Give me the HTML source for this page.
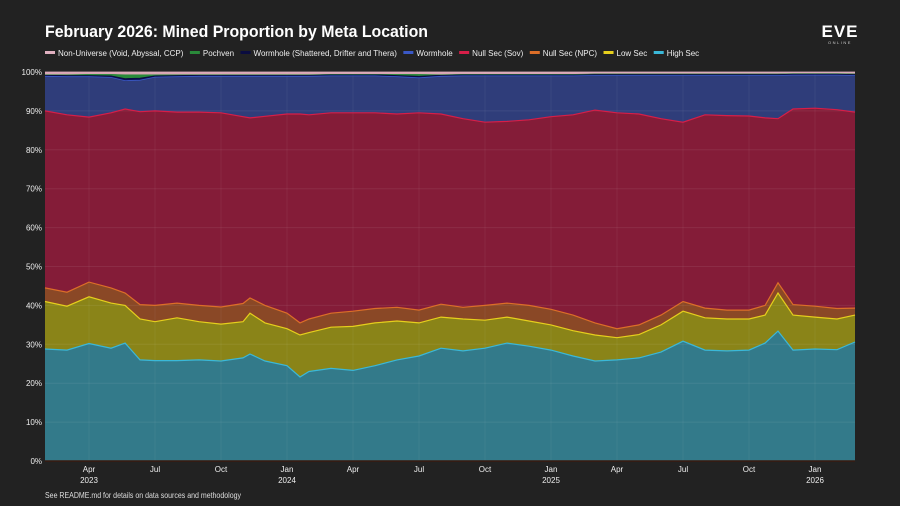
<!DOCTYPE html>
<html><head><meta charset="utf-8">
<style>
html,body{margin:0;padding:0;background:#222;}
svg{display:block;font-family:"Liberation Sans Narrow","Liberation Sans",sans-serif;}
</style></head>
<body>
<svg id="c" width="900" height="506" viewBox="0 0 900 506">
<rect x="0" y="0" width="900" height="506" fill="#222"/>
<text x="45" y="37" fill="#fff" font-size="17" font-weight="bold" textLength="383" lengthAdjust="spacingAndGlyphs">February 2026: Mined Proportion by Meta Location</text>
<g>
<text x="840" y="37" fill="#fff" font-size="17" font-weight="bold" text-anchor="middle" letter-spacing="1">EVE</text>
<text x="840" y="44" fill="#ccc" font-size="4" text-anchor="middle" letter-spacing="1.5">ONLINE</text>
</g>
<g id="legend"></g>
<g id="plot"></g>
<text x="45" y="498" fill="#ddd" font-size="8" textLength="196" lengthAdjust="spacingAndGlyphs">See README.md for details on data sources and methodology</text>
</svg>
<script>
// months since Feb 2023
const months = [0,1,2,3,3.64,4.32,5,6,7,8,9,9.32,10,11,11.59,12,13,14,15,16,17,18,19,20,21,22,23,24,25,26,27,28,29,30,31,32,32.73,33.32,34,35,36,36.82];
// cumulative tops (%)
const highSecTop = [28.8,28.5,30.2,29,30.3,26,25.8,25.8,26,25.7,26.5,27.5,25.7,24.5,21.6,23,23.8,23.3,24.5,26,27,29,28.3,29,30.3,29.5,28.5,27,25.7,26,26.5,28,30.8,28.5,28.3,28.5,30.3,33.4,28.5,28.8,28.6,30.6];
const lowSecTop = [41,39.8,42.2,40.6,40,36.5,35.8,36.8,35.8,35.2,35.8,38,35.5,34,32.4,33,34.4,34.6,35.5,36,35.5,37,36.5,36.2,37,36,35,33.5,32.4,31.7,32.5,35,38.5,36.8,36.5,36.5,37.5,43.2,37.5,37,36.5,37.5];
const nullNpcTop = [44.5,43.4,46,44.5,43.2,40.2,40,40.6,40,39.6,40.5,41.9,40,38,35.5,36.5,38,38.5,39.2,39.5,38.8,40.3,39.5,40,40.6,40,39,37.5,35.5,34,35,37.5,41,39.3,38.8,38.8,40,45.8,40.2,39.8,39.2,39.3];
const nullSovTop = [90,89,88.4,89.5,90.5,89.8,90,89.7,89.7,89.5,88.5,88.2,88.6,89.2,89.2,89,89.5,89.5,89.5,89.2,89.5,89.2,88,87.1,87.3,87.7,88.5,89,90.2,89.5,89.2,88,87.1,89,88.8,88.7,88.2,88,90.5,90.7,90.3,89.7];
const wormholeTop = [98.9,98.8,98.8,98.6,97.8,97.9,98.7,98.8,98.9,98.9,98.9,98.9,98.9,98.9,98.9,98.9,99,99,99,98.8,98.5,98.9,99,99,99,99,99,99,99.1,99.1,99.1,99.1,99.1,99.1,99.1,99.1,99.1,99.1,99.2,99.2,99.2,99.1];
const shatteredTop = [99.2,99.1,99.1,99.0,98.3,98.4,99.0,99.1,99.2,99.2,99.2,99.2,99.2,99.2,99.2,99.2,99.3,99.3,99.3,99.1,98.9,99.2,99.3,99.3,99.3,99.3,99.3,99.3,99.4,99.4,99.4,99.4,99.4,99.4,99.4,99.4,99.4,99.4,99.5,99.5,99.5,99.4];
const pochvenTop = [99.3,99.3,99.4,99.4,99.3,99.3,99.3,99.3,99.3,99.3,99.3,99.3,99.3,99.3,99.3,99.3,99.4,99.4,99.4,99.4,99.4,99.3,99.4,99.4,99.4,99.4,99.4,99.4,99.5,99.5,99.5,99.5,99.5,99.5,99.5,99.5,99.5,99.5,99.6,99.6,99.6,99.5];
const nonUniverseTop = months.map(()=>100);
const yTicks = [0,10,20,30,40,50,60,70,80,90,100];
const xTickMonths = [2,5,8,11,14,17,20,23,26,29,32,35];
const xTickLabels = ["Apr","Jul","Oct","Jan","Apr","Jul","Oct","Jan","Apr","Jul","Oct","Jan"];
const xTickYears = ["2023","","","2024","","","","2025","","","","2026"];

const X0=45,X1=855,Y0=461,Y1=72;
const xs = m => X0 + m*22;
const ys = v => Y0 - (v/100)*(Y0-Y1);
const NS="http://www.w3.org/2000/svg";
const plot=document.getElementById('plot');
function mk(tag,attrs,parent){const e=document.createElementNS(NS,tag);for(const k in attrs)e.setAttribute(k,attrs[k]);(parent||plot).appendChild(e);return e;}

const series=[
 {name:"High Sec",key:"high-sec",top:highSecTop,bot:null,fill:"#337a8a",line:"#3ab8d8",w:1.2},
 {name:"Low Sec",key:"low-sec",top:lowSecTop,bot:highSecTop,fill:"#8a8418",line:"#e6cf1c",w:1.2},
 {name:"Null Sec (NPC)",key:"null-sec-npc",top:nullNpcTop,bot:lowSecTop,fill:"#8a4826",line:"#dc6e28",w:1.2},
 {name:"Null Sec (Sov)",key:"null-sec-sov",top:nullSovTop,bot:nullNpcTop,fill:"#841c38",line:"#d61e48",w:1.2},
 {name:"Wormhole",key:"wormhole",top:wormholeTop,bot:nullSovTop,fill:"#2f3d7a",line:"#3a58c6",w:0.8},
 {name:"Wormhole (Shattered, Drifter and Thera)",key:"wormhole-shattered",top:shatteredTop,bot:wormholeTop,fill:"#0e1050",line:"#0a0c40",w:0.8},
 {name:"Pochven",key:"pochven",top:pochvenTop,bot:shatteredTop,fill:"#2a8a3a",line:"#2a8a3a",w:0.5},
 {name:"Non-Universe (Void, Abyssal, CCP)",key:"non-universe",top:nonUniverseTop,bot:pochvenTop,fill:"#d8a6b4",line:"#e0b0c0",w:0.8}
];

series.forEach(s=>{
  let d="M"+months.map((m,i)=>xs(m).toFixed(1)+","+ys(s.top[i]).toFixed(1)).join("L");
  for(let i=months.length-1;i>=0;i--){d+="L"+xs(months[i]).toFixed(1)+","+ys(s.bot?s.bot[i]:0).toFixed(1);}
  const p=mk('path',{d:d+"Z",fill:s.fill});
  
  
});
yTicks.forEach(t=>{
  const l=mk('line',{x1:X0,x2:X1,y1:ys(t),y2:ys(t),stroke:"rgba(255,255,255,0.07)","stroke-width":1});
  
  
  const tx=mk('text',{x:X0-3,y:ys(t)+3,fill:"#eee","font-size":8,"text-anchor":"end"});
  tx.textContent=t+"%";
  
  
});
xTickMonths.forEach((m,i)=>{
  const l=mk('line',{x1:xs(m),x2:xs(m),y1:Y1,y2:Y0,stroke:"rgba(255,255,255,0.05)","stroke-width":1});
  
  
  const tx=mk('text',{x:xs(m),y:Y0+11,fill:"#eee","font-size":8,"text-anchor":"middle"});
  tx.textContent=xTickLabels[i];
  
  
  if(xTickYears[i]){
    const ty=mk('text',{x:xs(m),y:Y0+22,fill:"#eee","font-size":8,"text-anchor":"middle"});
    ty.textContent=xTickYears[i];
    
    
  }
});
series.forEach(s=>{
  const d="M"+months.map((m,i)=>xs(m).toFixed(1)+","+ys(s.top[i]).toFixed(1)).join("L");
  const p=mk('path',{d:d,fill:"none",stroke:s.line,"stroke-width":s.w});
  
  
});
mk('line',{x1:X0,x2:X1,y1:Y0,y2:Y0,stroke:"#3a1a10","stroke-width":1.5});
const lg=document.getElementById('legend');
let lx=45;
[...series].reverse().forEach(s=>{
  const g=mk('g',{},lg);
  
  
  mk('rect',{x:lx,y:51,width:10,height:3,fill:s.line},g);
  const t=mk('text',{x:lx+13,y:56,fill:"#eee","font-size":8},g);
  t.textContent=s.name;
  const w=t.getComputedTextLength();
  lx+=13+w+6.5;
});
</script>
</body></html>
